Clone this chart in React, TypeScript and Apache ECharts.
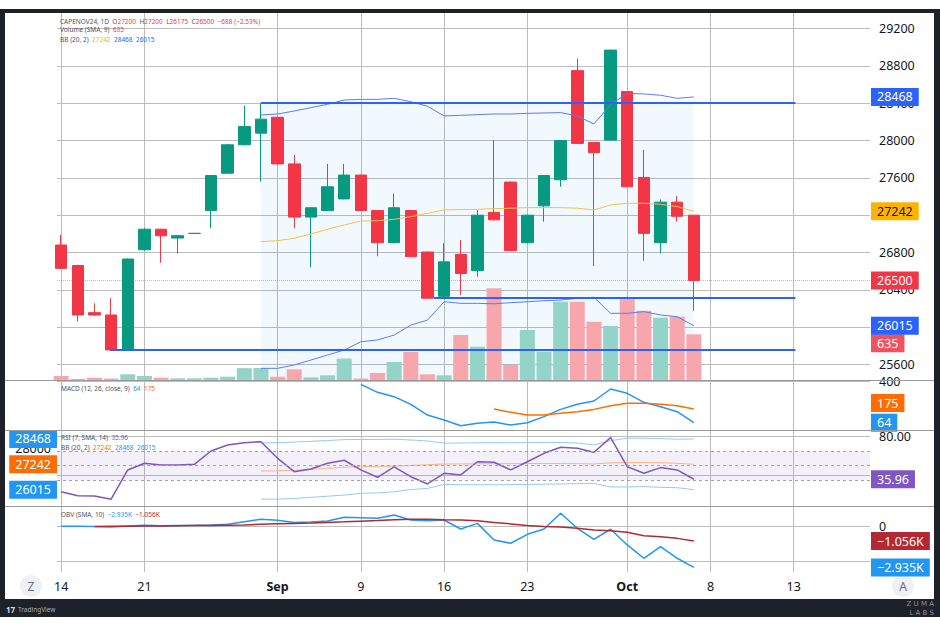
import React, { useEffect, useRef } from 'react';
import * as echarts from 'echarts';

const FONT = '"Noto Sans", "DejaVu Sans", sans-serif';

// ---------- data (index 0 = Aug 14, trading days) ----------
const opens = [26880, 26660, 26155, 26130, 25755, 26830, 27050, 26955, 27005, 27250, 27650, 27955, 28080, 28250, 27750, 27180, 27250, 27375, 27630, 27250, 26905, 27250, 26805, 26330, 26780, 26605, 27230, 27555, 26905, 27300, 27580, 28750, 27980, 28005, 28525, 27605, 26905, 27340, 27200];
const closes = [26630, 26130, 26130, 25755, 26730, 27050, 26980, 26980, 27005, 27625, 27955, 28150, 28230, 27750, 27180, 27280, 27505, 27630, 27250, 26905, 27280, 26755, 26310, 26700, 26575, 27200, 27150, 26820, 27200, 27625, 28000, 27970, 27870, 28970, 27505, 27005, 27340, 27188, 26500];
const lows = [26620, 26060, 26120, 25750, 25750, 26820, 26690, 26790, 27000, 27060, 27645, 27950, 27560, 27745, 27060, 26640, 27245, 27370, 27245, 26760, 26900, 26750, 26305, 26325, 26345, 26540, 27145, 26815, 26900, 27130, 27505, 27965, 26655, 28000, 27500, 26710, 26790, 27130, 26175];
const highs = [26990, 26670, 26255, 26310, 26735, 27060, 27055, 26985, 27010, 27630, 27965, 28375, 28400, 28255, 27845, 27285, 27750, 27750, 27635, 27255, 27430, 27255, 26810, 26900, 26935, 27255, 28005, 27560, 27205, 27630, 28005, 28880, 27985, 28975, 28530, 27900, 27370, 27405, 27200];
const volumes = [56, 15, 32, 20, 79, 56, 32, 23, 23, 32, 46, 165, 168, 46, 148, 37, 65, 298, 20, 98, 250, 390, 79, 65, 625, 463, 1274, 208, 695, 394, 1088, 1088, 810, 750, 1121, 963, 866, 880, 635];

const bbStart = 12;
const bbUpper = [28275, 28285, 28317, 28353, 28389, 28435, 28442, 28442, 28453, 28417, 28368, 28264, 28271, 28278, 28285, 28285, 28292, 28296, 28300, 28264, 28178, 28385, 28507, 28500, 28486, 28453, 28468];
const bbMid = [26916, 26927, 26952, 26998, 27049, 27095, 27138, 27140, 27156, 27184, 27220, 27256, 27260, 27263, 27270, 27275, 27281, 27281, 27281, 27275, 27256, 27310, 27328, 27328, 27317, 27292, 27242];
const bbLower = [25558, 25558, 25594, 25647, 25701, 25754, 25843, 25862, 25915, 26022, 26075, 26272, 26255, 26255, 26250, 26262, 26272, 26283, 26290, 26309, 26320, 26148, 26148, 26166, 26130, 26112, 26015];

const macdStart = 18;
const macdLine = [375, 310, 275, 213, 126, 86, 40, 59, 70, 45, 64, 113, 172, 213, 240, 337, 302, 229, 194, 153, 64];
const signalStart = 26;
const signalLine = [175, 148, 126, 126, 140, 153, 172, 202, 221, 221, 213, 202, 175];

const rsiValues = [23.1, 19.0, 18.7, 15.3, 45.6, 52.5, 50.7, 50.7, 51.4, 65.2, 71.4, 73.8, 74.8, 57.6, 43.8, 46.6, 52.5, 55.6, 45.6, 38.0, 48.7, 38.6, 31.1, 42.1, 40.4, 54.1, 53.5, 45.6, 54.1, 62.8, 69.0, 68.0, 63.9, 79.0, 49.0, 42.1, 48.0, 45.6, 35.96];
const rsiBands = [65, 50, 35];

// OBV in thousands
const obvValues = [0, 0, -0.03, -0.05, 0.02, 0.06, 0.03, 0.05, 0.06, 0.09, 0.14, 0.32, 0.49, 0.42, 0.27, 0.3, 0.37, 0.63, 0.6, 0.56, 0.8, 0.44, 0.39, 0.44, -0.2, 0.2, -0.99, -1.22, -0.58, -0.2, 0.92, -0.15, -0.94, -0.22, -1.34, -2.29, -1.46, -2.29, -2.935];
const obvSmaStart = 2;
const obvSma = [-0.02, -0.01, 0.0, 0.01, 0.02, 0.03, 0.04, 0.05, 0.07, 0.09, 0.13, 0.17, 0.2, 0.23, 0.27, 0.31, 0.36, 0.4, 0.46, 0.5, 0.49, 0.46, 0.44, 0.38, 0.27, 0.16, 0.05, -0.03, -0.06, -0.15, -0.27, -0.32, -0.44, -0.68, -0.75, -0.87, -1.056];

const xTickIdx = [0, 5, 13, 18, 23, 28, 34, 39, 44];
const xTickLabels = ['14', '21', 'Sep', '9', '16', '23', 'Oct', '8', '13'];
const priceGridTicks = [25600, 26000, 26400, 26800, 27200, 27600, 28000, 28400, 28800, 29200];
const priceLabelTicks = [25600, 26400, 26800, 27600, 28000, 28400, 28800, 29200];
const overlayPriceTicks = [28000];
const macdTicks = [400];
const rsiGridTicks = [40, 80];
const rsiLabelTicks = [80];
const obvGridTicks = [-2.5, 0];
const obvLabelTicks = [0];

// drawings (horizontal lines and price range box)
const drawings = [
  { from: 12, to: 44.1, price: 28405 },
  { from: 22.4, to: 44.1, price: 26315 },
  { from: 2.94, to: 44.1, price: 25755 },
];
const rangeBox = { from: 12, to: 38, top: 28405 };

// ---------- axes ranges ----------
const X_MIN = -0.25, X_MAX = 48.58;
const P_MIN = 25433, P_MAX = 29368;
const V_MAX = 5099;
const M_MIN = 5, M_MAX = 410;
const R_MIN = 8.3, R_MAX = 86.9;
const RP_MIN = 25228, RP_MAX = 28899;
const O_MIN = -3.27, O_MAX = 1.44;

const GRID = '#bcbcbc';
const UP = '#089981', DOWN = '#f23645';
const VUP = '#93d3c8', VDOWN = '#f7a6ac';
const last = closes.length - 1;

const pairs = (start: number, arr: number[]) => arr.map((v, i) => [start + i, v]);
const minus = (v: number) => (v < 0 ? '\u2212' : '') + Math.abs(v).toFixed(3) + 'K';

const tag = (value: number, text: string, bg: string, pos = 'end', extra: any = {}) => ({
  yAxis: value,
  lineStyle: { color: 'rgba(0,0,0,0)', width: 0, type: 'solid' },
  label: {
    show: true, position: pos, formatter: text, backgroundColor: bg, color: '#fff',
    fontFamily: FONT, fontSize: 12.5, lineHeight: 14, padding: [2, 6, 2, 6], distance: 1, ...extra,
  },
});

const markLineBase = { silent: true, symbol: 'none', animation: false, label: { show: false }, emphasis: { disabled: true } };

const xAxes = [0, 1, 2, 3].map((g) => ({
  type: 'value', gridIndex: g, min: X_MIN, max: X_MAX,
  axisLine: { show: false },
  axisTick: { show: false, customValues: xTickIdx },
  splitLine: { show: true, lineStyle: { color: GRID, width: 1 } },
  axisLabel: g === 3 ? {
    show: true, customValues: xTickIdx, margin: 8, color: '#131722', fontFamily: FONT, fontSize: 12.5,
    formatter: (v: number) => {
      const t = xTickLabels[xTickIdx.indexOf(Math.round(v))] || '';
      return t === 'Sep' || t === 'Oct' ? `{b|${t}}` : t;
    },
    rich: { b: { fontWeight: 'bold', fontSize: 12.5, fontFamily: FONT, color: '#131722' } },
  } : { show: false },
}));

const rightAxis = (grid: number, min: number, max: number, gridTicks: number[], labelTicks: number[], fmt: (v: number) => string) => ({
  type: 'value', gridIndex: grid, position: 'right', min, max,
  axisLine: { show: false },
  axisTick: { show: false, customValues: gridTicks },
  splitLine: { show: true, lineStyle: { color: GRID, width: 1 } },
  axisLabel: { show: true, customValues: labelTicks, margin: 9, color: '#131722', fontFamily: FONT, fontSize: 12.5, formatter: fmt },
});

const yAxes = [
  rightAxis(0, P_MIN, P_MAX, priceGridTicks, priceLabelTicks, (v) => String(v)),
  { type: 'value', gridIndex: 0, min: 0, max: V_MAX, show: false, splitLine: { show: false } },
  rightAxis(1, M_MIN, M_MAX, macdTicks, macdTicks, (v) => String(v)),
  rightAxis(2, R_MIN, R_MAX, rsiGridTicks, rsiLabelTicks, (v) => v.toFixed(2)),
  {
    type: 'value', gridIndex: 2, position: 'left', min: RP_MIN, max: RP_MAX,
    axisLine: { show: false }, axisTick: { show: false, customValues: overlayPriceTicks },
    splitLine: { show: false },
    axisLabel: { show: true, customValues: overlayPriceTicks, margin: 6, color: '#131722', fontFamily: FONT, fontSize: 12.5, formatter: (v: number) => String(v) },
  },
  rightAxis(3, O_MIN, O_MAX, obvGridTicks, obvLabelTicks, (v) => (v === 0 ? '0' : minus(v))),
];

const line = (name: string, xi: number, yi: number, data: any[], color: string, width: number, extra: any = {}) => ({
  name, type: 'line', xAxisIndex: xi, yAxisIndex: yi, data, symbol: 'none', showSymbol: false,
  lineStyle: { color, width }, itemStyle: { color }, emphasis: { disabled: true }, silent: true, ...extra,
});

const series: any[] = [
  {
    name: 'Volume', type: 'bar', xAxisIndex: 0, yAxisIndex: 1, barWidth: 15, silent: true,
    data: volumes.map((v, i) => ({ value: [i, v], itemStyle: { color: closes[i] >= opens[i] ? VUP : VDOWN } })),
    markLine: { ...markLineBase, data: [tag(volumes[last], String(volumes[last]), '#f0525f', 'end', { offset: [0, 9] })] },
  },
  {
    name: 'Price', type: 'candlestick', xAxisIndex: 0, yAxisIndex: 0, barWidth: 12, silent: true,
    data: opens.map((o, i) => [i, o, closes[i], lows[i], highs[i]]),
    itemStyle: { color: UP, color0: DOWN, borderColor: UP, borderColor0: DOWN, borderWidth: 1 },
    markArea: {
      silent: true, itemStyle: { color: 'rgba(33,150,243,0.06)' },
      data: [[{ coord: [rangeBox.from, rangeBox.top] }, { coord: [rangeBox.to, P_MIN] }]],
    },
    markLine: {
      ...markLineBase,
      data: [
        ...drawings.map((d) => [
          { coord: [d.from, d.price], lineStyle: { color: '#2962ff', width: 2, type: 'solid', opacity: 1 }, label: { show: false } },
          { coord: [d.to, d.price] },
        ]),
        {
          yAxis: closes[last],
          lineStyle: { color: 'rgba(242,54,69,0.45)', width: 1, type: 'dotted', opacity: 1 },
          label: {
            show: true, position: 'end', formatter: String(closes[last]), backgroundColor: DOWN, color: '#fff',
            fontFamily: FONT, fontSize: 12.5, lineHeight: 14, padding: [2, 6, 2, 6], distance: 1,
          },
        },
      ],
    },
  },
  line('BB upper', 0, 0, pairs(bbStart, bbUpper), '#5a7cf2', 1, {
    markLine: { ...markLineBase, data: [tag(bbUpper[bbUpper.length - 1], String(bbUpper[bbUpper.length - 1]), '#2962ff')] },
  }),
  line('BB basis', 0, 0, pairs(bbStart, bbMid), '#f0c24a', 1, {
    markLine: { ...markLineBase, data: [tag(bbMid[bbMid.length - 1], String(bbMid[bbMid.length - 1]), '#ffb300', 'end', { color: '#131722' })] },
  }),
  line('BB lower', 0, 0, pairs(bbStart, bbLower), '#5a7cf2', 1, {
    markLine: { ...markLineBase, data: [tag(bbLower[bbLower.length - 1], String(bbLower[bbLower.length - 1]), '#2962ff')] },
  }),
  line('MACD', 1, 2, pairs(macdStart, macdLine), '#2196f3', 1.5, {
    markLine: { ...markLineBase, data: [tag(macdLine[macdLine.length - 1], String(macdLine[macdLine.length - 1]), '#2196f3')] },
  }),
  line('Signal', 1, 2, pairs(signalStart, signalLine), '#ff6d00', 1.5, {
    markLine: { ...markLineBase, data: [tag(signalLine[signalLine.length - 1], String(signalLine[signalLine.length - 1]), '#ff6d00', 'end', { offset: [0, -6] })] },
  }),
  line('RSI BB base', 2, 4, pairs(bbStart, bbLower), '#90caf9', 0, { stack: 'rbb', lineStyle: { opacity: 0, width: 0 } }),
  line('RSI BB fill', 2, 4, pairs(bbStart, bbUpper.map((u, i) => u - bbLower[i])), '#90caf9', 0, {
    stack: 'rbb', lineStyle: { opacity: 0, width: 0 }, areaStyle: { color: 'rgba(33,150,243,0.08)' },
  }),
  line('RSI BB upper', 2, 4, pairs(bbStart, bbUpper), '#94c9f5', 1, {
    markLine: { ...markLineBase, data: [tag(bbUpper[bbUpper.length - 1], String(bbUpper[bbUpper.length - 1]), '#2196f3', 'start', { distance: 0 })] },
  }),
  line('RSI BB basis', 2, 4, pairs(bbStart, bbMid), '#ffb27f', 1, {
    markLine: { ...markLineBase, data: [tag(bbMid[bbMid.length - 1], String(bbMid[bbMid.length - 1]), '#ff6d00', 'start', { distance: 0 })] },
  }),
  line('RSI BB lower', 2, 4, pairs(bbStart, bbLower), '#94c9f5', 1, {
    markLine: { ...markLineBase, data: [tag(bbLower[bbLower.length - 1], String(bbLower[bbLower.length - 1]), '#2196f3', 'start', { distance: 0 })] },
  }),
  line('RSI', 2, 3, pairs(0, rsiValues), '#7e57c2', 1.5, {
    markArea: {
      silent: true, itemStyle: { color: 'rgba(126,87,194,0.09)' },
      data: [[{ yAxis: rsiBands[0] }, { yAxis: rsiBands[2] }]],
    },
    markLine: {
      ...markLineBase,
      data: [
        ...rsiBands.map((b) => ({ yAxis: b, lineStyle: { color: '#a3a3ad', width: 1, type: [3, 3], opacity: 1 }, label: { show: false } })),
        tag(rsiValues[last], rsiValues[last].toFixed(2), '#7e57c2'),
      ],
    },
  }),
  line('OBV', 3, 5, pairs(0, obvValues), '#2196f3', 1.5, {
    markLine: { ...markLineBase, data: [tag(obvValues[last], minus(obvValues[last]), '#2196f3')] },
  }),
  line('OBV SMA', 3, 5, pairs(obvSmaStart, obvSma), '#b22833', 1.5, {
    markLine: { ...markLineBase, data: [tag(obvSma[obvSma.length - 1], minus(obvSma[obvSma.length - 1]), '#b22833')] },
  }),
];

// ---------- legends ----------
const LF = 6.5;
const rs = (fill: string) => ({ fill, fontSize: LF, fontFamily: FONT });
const RICH = {
  g: rs('#4f525c'), r: rs('#f23645'), y: rs('#f0b400'), b: rs('#2962ff'),
  lb: rs('#2196f3'), o: rs('#ff6d00'), p: rs('#7e57c2'), dr: rs('#b22833'),
};
const legend = (x: number, y: number, parts: [string, string][]) => ({
  type: 'text', x, y, silent: true, z: 50,
  style: { text: parts.map(([t, k]) => `{${k}|${t}}`).join(''), rich: RICH, verticalAlign: 'middle', fontSize: LF, fontFamily: FONT },
});
const change = closes[last] - closes[last - 1];

const graphics: any[] = [
  legend(60, 21, [
    ['CAPENOV24, 1D  O', 'g'], [String(opens[last]), 'r'], ['  H', 'g'], [String(highs[last]), 'r'],
    ['  L', 'g'], [String(lows[last]), 'r'], ['  C', 'g'], [String(closes[last]), 'r'],
    [`  \u2212${Math.abs(change)} (\u2212${(Math.abs(change) / closes[last - 1] * 100).toFixed(2)}%)`, 'r'],
  ]),
  legend(60, 29.5, [['Volume (SMA, 9)  ', 'g'], [String(volumes[last]), 'r']]),
  legend(60, 39, [['BB (20, 2)  ', 'g'], [String(bbMid[bbMid.length - 1]), 'y'], ['  ', 'g'], [String(bbUpper[bbUpper.length - 1]), 'b'], ['  ', 'g'], [String(bbLower[bbLower.length - 1]), 'b']]),
  legend(61, 388, [['MACD (12, 26, close, 9)  ', 'g'], [String(macdLine[macdLine.length - 1]), 'lb'], ['  ', 'g'], [String(signalLine[signalLine.length - 1]), 'o']]),
  legend(61, 437.5, [['RSI (7, SMA, 14)  ', 'g'], [rsiValues[last].toFixed(2), 'p']]),
  legend(61, 447, [['BB (20, 2)  ', 'g'], [String(bbMid[bbMid.length - 1]), 'o'], ['  ', 'g'], [String(bbUpper[bbUpper.length - 1]), 'lb'], ['  ', 'g'], [String(bbLower[bbLower.length - 1]), 'lb']]),
  legend(61, 514.5, [['OBV (SMA, 10)  ', 'g'], [minus(obvValues[last]), 'lb'], ['  ', 'g'], [minus(obvSma[obvSma.length - 1]), 'dr']]),
  // pane separators
  ...[380, 430, 506].map((y) => ({
    type: 'line', silent: true, z: 40, shape: { x1: 5, y1: y + 0.5, x2: 934, y2: y + 0.5 }, style: { stroke: '#9a9a9a', lineWidth: 1 },
  })),
  // Z / A buttons
  { type: 'circle', silent: true, shape: { cx: 31, cy: 586, r: 11 }, style: { fill: '#eef0f4' } },
  { type: 'text', silent: true, x: 31, y: 586, style: { text: 'Z', fill: '#6a6d78', fontSize: 12, fontFamily: FONT, align: 'center', verticalAlign: 'middle' } },
  { type: 'circle', silent: true, shape: { cx: 903, cy: 586, r: 11 }, style: { fill: '#eef0f4' } },
  { type: 'text', silent: true, x: 903, y: 586, style: { text: 'A', fill: '#6a6d78', fontSize: 12, fontFamily: FONT, align: 'center', verticalAlign: 'middle' } },
  // footer
  { type: 'text', silent: true, x: 6, y: 609, style: { text: '17', fill: '#d6d9e0', fontSize: 8, fontWeight: 'bold', fontFamily: FONT, verticalAlign: 'middle' } },
  { type: 'text', silent: true, x: 18, y: 609, style: { text: 'TradingView', fill: '#a9acb5', fontSize: 6.5, fontFamily: FONT, verticalAlign: 'middle' } },
  { type: 'text', silent: true, x: 934, y: 604, style: { text: 'Z U M A', fill: '#8f939c', fontSize: 7, fontFamily: '"DejaVu Sans"', align: 'right', verticalAlign: 'middle' } },
  { type: 'text', silent: true, x: 934, y: 612.5, style: { text: 'L A B S', fill: '#8f939c', fontSize: 7, fontFamily: '"DejaVu Sans"', align: 'right', verticalAlign: 'middle' } },
];

const option: any = {
  animation: false,
  textStyle: { fontFamily: FONT },
  grid: [
    { left: 57, right: 70, top: 13, height: 367 },
    { left: 57, right: 70, top: 380, height: 50 },
    { left: 57, right: 70, top: 430, height: 76 },
    { left: 57, right: 70, top: 506, height: 66 },
  ],
  xAxis: xAxes,
  yAxis: yAxes,
  series,
  graphic: { elements: graphics },
};

export default function App() {
  const ref = useRef<HTMLDivElement>(null);
  useEffect(() => {
    const chart = echarts.init(ref.current as HTMLDivElement, undefined, { renderer: 'svg' });
    chart.setOption(option);
    return () => chart.dispose();
  }, []);
  return (
    <div style={{ position: 'fixed', left: 0, top: 0, width: 940, height: 627, background: '#ffffff', overflow: 'hidden' }}>
      <div style={{ position: 'absolute', left: 0, top: 9, width: 940, height: 608, background: '#1e2129' }} />
      <div style={{ position: 'absolute', left: 5, top: 13, width: 929, height: 586, background: '#ffffff' }} />
      <div ref={ref} style={{ position: 'absolute', left: 0, top: 0, width: 940, height: 627 }} />
    </div>
  );
}
